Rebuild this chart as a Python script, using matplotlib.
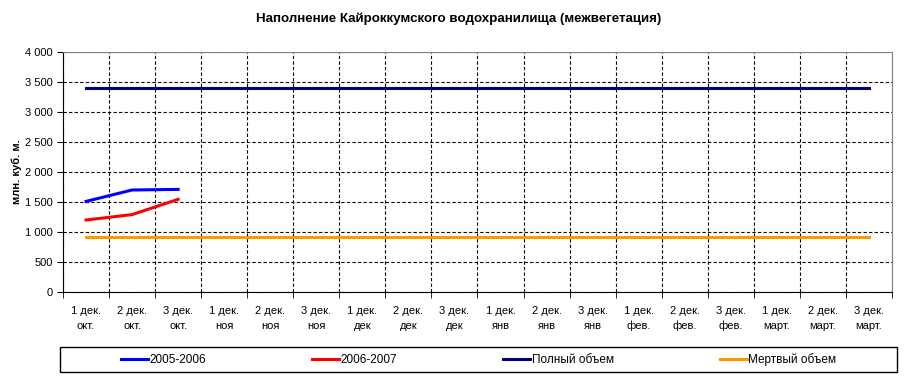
import matplotlib.pyplot as plt
from matplotlib.patches import Rectangle
import numpy as np

plt.rcParams.update({
    "font.family": ["Liberation Sans", "DejaVu Sans"],
    "font.size": 8,
})

# categories (decades of months)
decades = ["1 дек.", "2 дек.", "3 дек."] * 6
months = ["окт."] * 3 + ["ноя"] * 3 + ["дек"] * 3 + ["янв"] * 3 + ["фев."] * 3 + ["март."] * 3
labels = [d + "\n" + m for d, m in zip(decades, months)]

s2005 = [1510, 1700, 1710]
s2006 = [1200, 1290, 1545]
full_volume = [3400] * 18
dead_volume = [910] * 18

fig = plt.figure(figsize=(9.17, 3.83), dpi=100)
ax = fig.add_axes([63 / 917, 1 - 292 / 383, 829 / 917, 240 / 383])

x = np.arange(len(labels))
ax.plot(x[:3], s2005, color="#0000ff", lw=2.2, label="2005-2006")
ax.plot(x[:3], s2006, color="#ff0000", lw=2.2, label="2006-2007")
ax.plot(x, full_volume, color="#000080", lw=2.2, label="Полный объем")
ax.plot(x, dead_volume, color="#ff9900", lw=2.2, label="Мертвый объем")

ax.set_xlim(-0.5, len(labels) - 0.5)
ax.set_ylim(0, 4000)
ax.set_yticks(range(0, 4001, 500))
ax.set_yticklabels([f"{v:,}".replace(",", " ") for v in range(0, 4001, 500)], fontsize=8)

ax.set_xticks(x)
ax.set_xticklabels(labels, fontsize=8, linespacing=1.6)
ax.set_xticks(np.arange(-0.5, len(labels), 1), minor=True)
ax.tick_params(axis="x", which="major", length=0, pad=10)
ax.tick_params(axis="x", which="minor", length=4, direction="out", color="black")
ax.tick_params(axis="y", length=4, direction="out", color="black")

ax.grid(True, axis="y", linestyle=(0, (3, 2)), color="black", lw=0.8)
ax.grid(True, axis="x", which="minor", linestyle=(0, (3, 2)), color="black", lw=0.8)
ax.set_axisbelow(True)

ax.spines["top"].set_color("#808080")
ax.spines["right"].set_color("#808080")
ax.spines["left"].set_color("black")
ax.spines["bottom"].set_color("black")

ax.set_ylabel("млн. куб. м.", fontsize=8, fontweight="bold", labelpad=2)
fig.text(0.5, 1 - 19 / 383, "Наполнение Кайроккумского водохранилища (межвегетация)",
         ha="center", va="center", fontsize=9.6, fontweight="bold")

# legend box
fig.patches.append(Rectangle((60 / 917, 1 - 372 / 383), 837 / 917, 25 / 383,
                             transform=fig.transFigure, fill=False,
                             edgecolor="black", lw=1))
leg = fig.legend(loc="center", bbox_to_anchor=(478.5 / 917, 1 - 359.5 / 383),
                 ncol=4, fontsize=8.5, frameon=False,
                 handlelength=2.3, handletextpad=0.1, columnspacing=9.0)

fig.savefig("out.png", dpi=100)
